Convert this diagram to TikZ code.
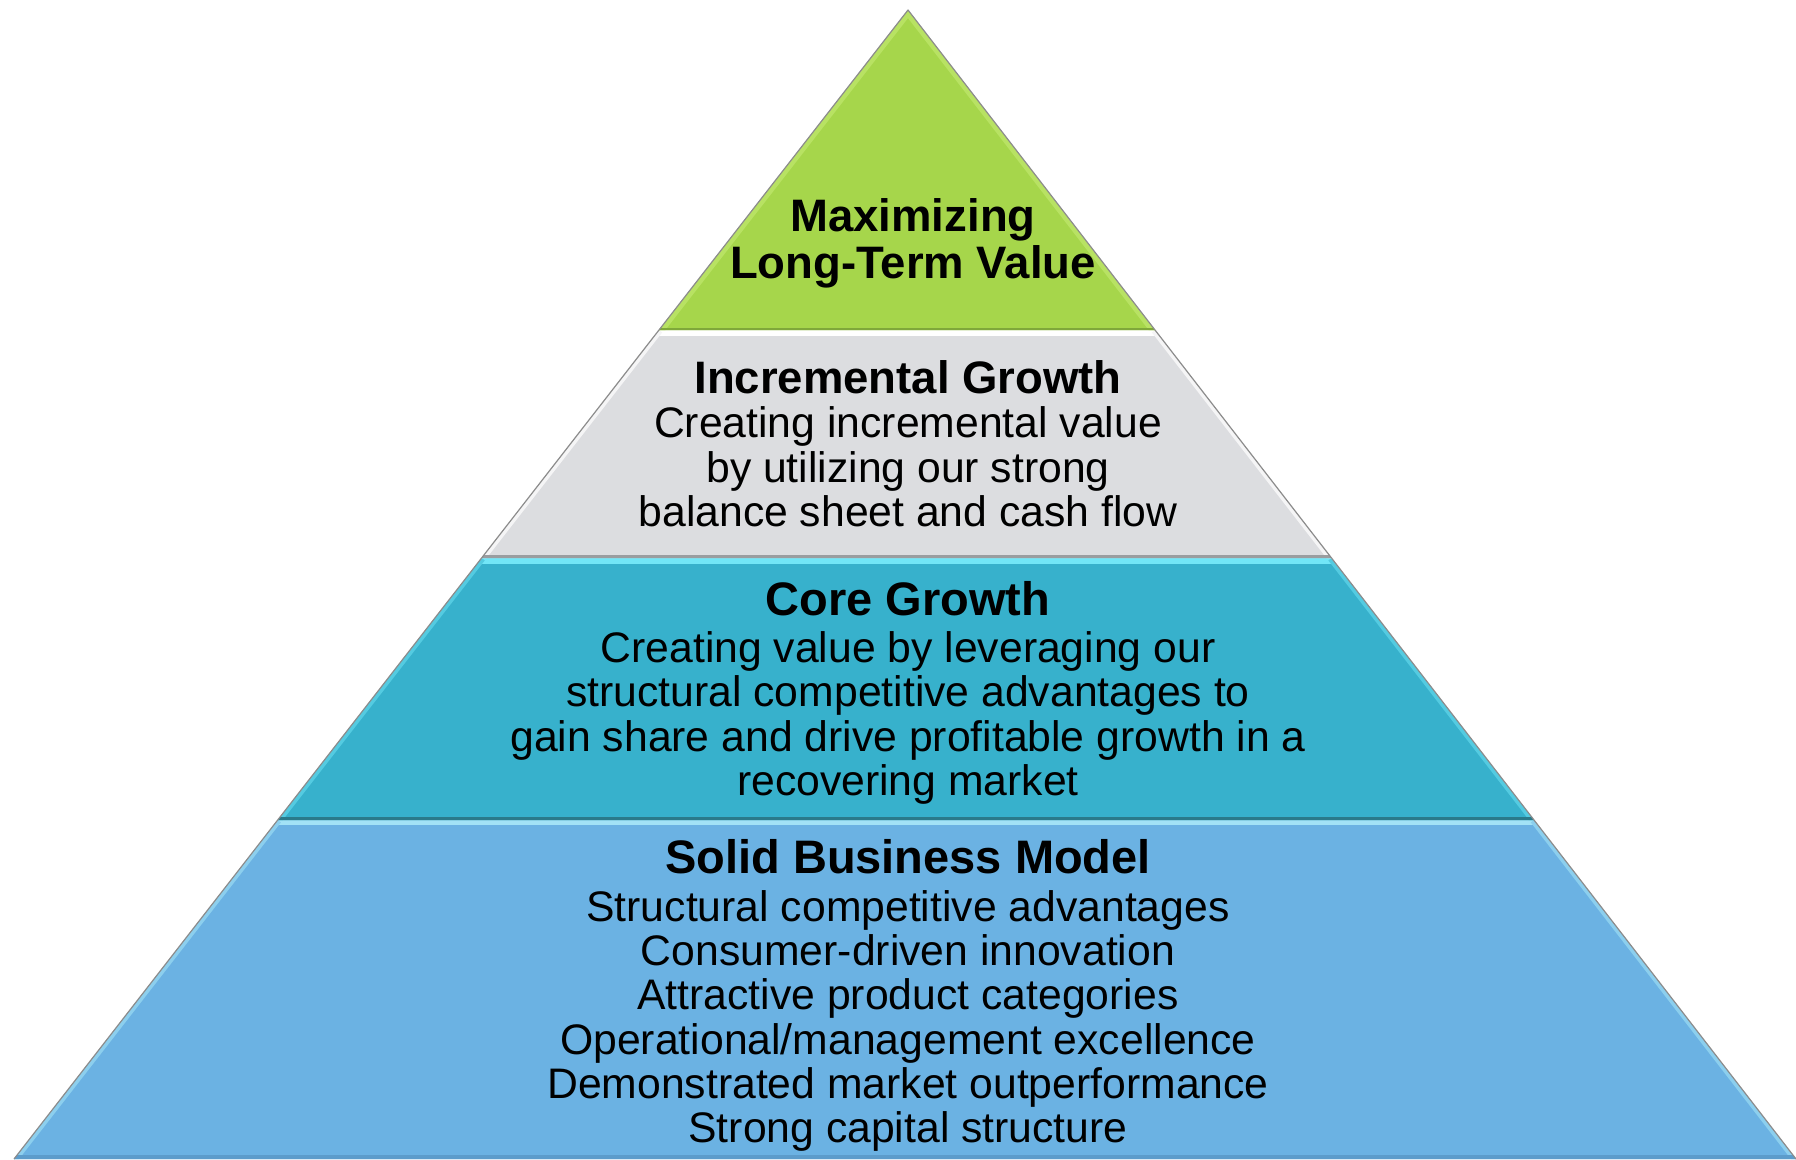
\documentclass[tikz,border=0pt]{standalone}
\usepackage{fontspec}
\setmainfont{Liberation Sans}
\definecolor{cgreen}{HTML}{A6D64B}
\definecolor{cgreenhi}{HTML}{B8E263}
\definecolor{cgreendk}{HTML}{7FA83A}
\definecolor{cgray}{HTML}{DCDDE0}
\definecolor{cgraydk}{HTML}{9A9DA0}
\definecolor{cteal}{HTML}{37B1CC}
\definecolor{ctealhi}{HTML}{72E6F7}
\definecolor{ctealdk}{HTML}{2A7A8A}
\definecolor{cblue}{HTML}{6BB2E3}
\definecolor{cbluehi}{HTML}{A2E2F6}
\definecolor{cbluedk}{HTML}{5C9CCB}
\tikzset{
  titletext/.style={font=\bfseries\fontsize{47}{50}\selectfont, align=center, inner sep=0pt},
  toptext/.style={font=\bfseries\fontsize{45.5}{47}\selectfont, align=center, inner sep=0pt},
  bodytext/.style={font=\fontsize{42.7}{44.3}\selectfont, align=center, inner sep=0pt},
  edgeline/.style={draw=black!45, line width=1.2pt, line join=round}
}
\begin{document}
\begin{tikzpicture}[x=1pt,y=-1pt]
\useasboundingbox (0,0) rectangle (1796,1159);
% corner coordinates
\coordinate (apex) at (908,10);
\coordinate (aL) at (659,330);   \coordinate (aR) at (1155,330);
\coordinate (bL) at (481.6,558); \coordinate (bR) at (1331.5,558);
\coordinate (cL) at (277.7,820); \coordinate (cR) at (1534,820);
\coordinate (dL) at (14,1159);   \coordinate (dR) at (1796,1159);

% bottom layer
\begin{scope}
\clip (cL) -- (cR) -- (dR) -- (dL) -- cycle;
\fill[cblue] (cL) -- (cR) -- (dR) -- (dL) -- cycle;
\draw[cbluehi, line width=10pt] (cL) -- (cR);
\draw[cbluehi!60!cblue, line width=8pt] (cL) -- (dL);
\draw[cbluehi!60!cblue, line width=8pt] (cR) -- (dR);
\draw[cbluedk, line width=8pt] (dL) -- (dR);
\end{scope}
\draw[edgeline] (cL) -- (dL) (cR) -- (dR);

% third layer
\begin{scope}
\clip (bL) -- (bR) -- (cR) -- (cL) -- cycle;
\fill[cteal] (bL) -- (bR) -- (cR) -- (cL) -- cycle;
\draw[ctealhi, line width=12pt] (bL) -- (bR);
\draw[ctealhi!50!cteal, line width=8pt] (bL) -- (cL);
\draw[ctealhi!50!cteal, line width=8pt] (bR) -- (cR);
\draw[ctealdk, line width=6pt] (cL) -- (cR);
\end{scope}
\draw[edgeline] (bL) -- (cL) (bR) -- (cR);

% second layer
\begin{scope}
\clip (aL) -- (aR) -- (bR) -- (bL) -- cycle;
\fill[cgray] (aL) -- (aR) -- (bR) -- (bL) -- cycle;
\draw[white, line width=12pt] (aL) -- (aR);
\draw[white!70!cgray, line width=8pt] (aL) -- (bL);
\draw[white!70!cgray, line width=8pt] (aR) -- (bR);
\draw[cgraydk, line width=6pt] (bL) -- (bR);
\end{scope}
\draw[edgeline] (aL) -- (bL) (aR) -- (bR);

% top layer
\begin{scope}
\clip (apex) -- (aR) -- (aL) -- cycle;
\fill[cgreen] (apex) -- (aR) -- (aL) -- cycle;
\draw[cgreenhi, line width=10pt] (aL) -- (apex) -- (aR);
\draw[cgreendk, line width=4pt] (aL) -- (aR);
\end{scope}
\draw[edgeline] (aL) -- (apex) -- (aR);

% texts
\node[toptext] (t1) at (913,243) {Maximizing\\Long-Term Value};
\node[toptext] (t2) at (908,377) {Incremental Growth};
\node[bodytext] (b2) at (908,467) {Creating incremental value\\by utilizing our strong\\balance sheet and cash flow};
\node[titletext] (t3) at (908,599) {Core Growth};
\node[bodytext] (b3) at (908,718) {Creating value by leveraging our\\structural competitive advantages to\\gain share and drive profitable growth in a\\recovering market};
\node[titletext] (t4) at (908,857) {Solid Business Model};
\node[bodytext] (b4) at (908,1021) {Structural competitive advantages\\Consumer-driven innovation\\Attractive product categories\\Operational/management excellence\\Demonstrated market outperformance\\Strong capital structure};
\end{tikzpicture}
\end{document}
